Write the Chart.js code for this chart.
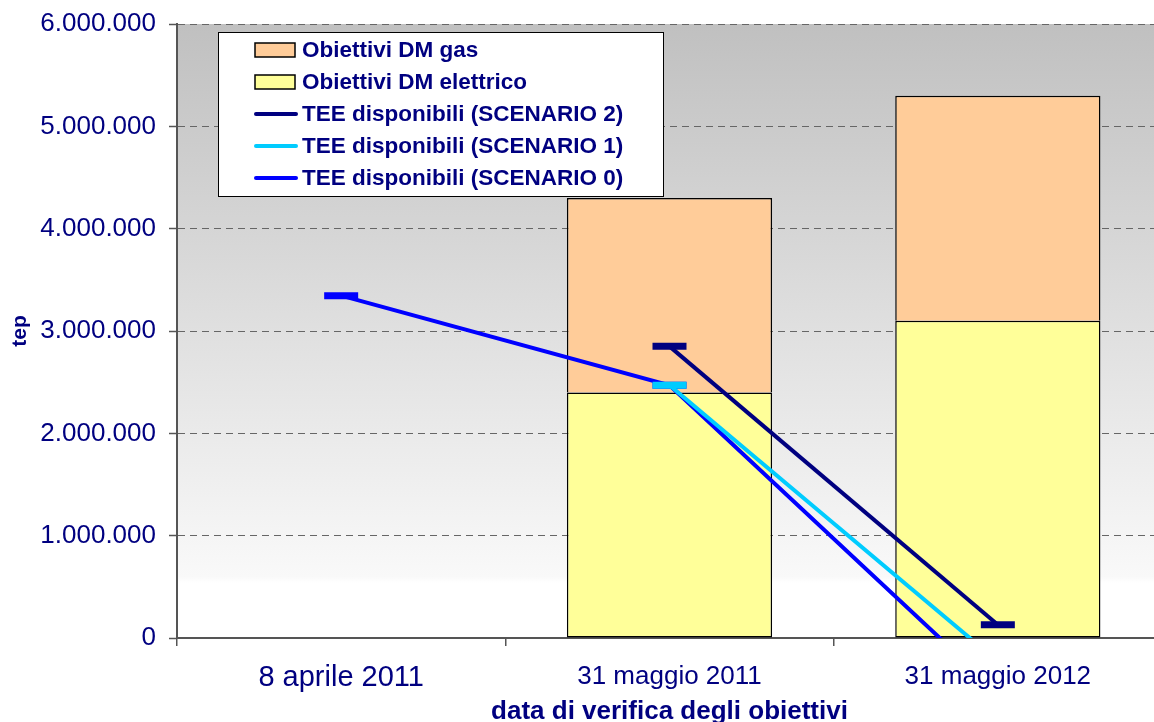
<!DOCTYPE html>
<html>
<head>
<meta charset="utf-8">
<title>TEE disponibili</title>
<script src="https://cdn.jsdelivr.net/npm/chart.js@4.4.1/dist/chart.umd.min.js"></script>
<style>
	body { margin:0; padding:0; background:#ffffff; overflow:hidden; }
	#chart { display:block; }
</style>
</head>
<body>
<canvas id="chart" width="1186" height="722"></canvas>
<script>
// categories and values
var categories = ['8 aprile 2011', '31 maggio 2011', '31 maggio 2012'];
var obiettiviElettrico = [null, 2400000, 3100000];
var obiettiviGas = [null, 1900000, 2200000];
var scenario2 = [null, 2850000, 130000];
var scenario1 = [null, 2470000, -230000];
var scenario0 = [3345000, 2470000, -530000];
var yTicks = [0, 1000000, 2000000, 3000000, 4000000, 5000000, 6000000];

var navy = '#000080';

function formatIt(v)
{
	return String(v).replace(/\B(?=(\d{3})+(?!\d))/g, '.');
}

// gray to white fill behind the plot
var backgroundPlugin = {
	id: 'plotBackground',
	beforeDraw: function(chart) {
		var ctx = chart.ctx;
		var a = chart.chartArea;
		var g = ctx.createLinearGradient(0, a.top, 0, a.bottom);
		g.addColorStop(0, '#c0c0c0');
		g.addColorStop(0.9, '#f9f9f9');
		g.addColorStop(0.91, '#ffffff');
		g.addColorStop(1, '#ffffff');
		ctx.save();
		ctx.fillStyle = g;
		ctx.fillRect(a.left, a.top, a.right - a.left, a.bottom - a.top);
		ctx.restore();
	}
};

// legend box sits inside the plot, top left
var legendBoxPlugin = {
	id: 'legendBox',
	afterDatasetsDraw: function(chart) {
		var ctx = chart.ctx;
		var order = [1, 0, 2, 3, 4];
		var left = 218, top = 32, w = 445, h = 164;
		ctx.save();
		ctx.fillStyle = '#ffffff';
		ctx.fillRect(left, top, w, h);
		ctx.strokeStyle = '#000000';
		ctx.lineWidth = 1;
		ctx.strokeRect(left + 0.5, top + 0.5, w, h);
		ctx.font = 'bold 22.5px "Liberation Sans", Arial, sans-serif';
		ctx.textBaseline = 'middle';
		ctx.textAlign = 'left';
		for (var i = 0; i < order.length; i++)
		{
			var ds = chart.data.datasets[order[i]];
			var y = 50 + i * 32;
			if (ds.type == 'bar')
			{
				ctx.fillStyle = ds.backgroundColor;
				ctx.fillRect(255, y - 7, 40, 14);
				ctx.lineWidth = 1.5;
				ctx.strokeStyle = '#000000';
				ctx.strokeRect(255, y - 7, 40, 14);
			}
			else
			{
				ctx.beginPath();
				ctx.lineCap = 'round';
				ctx.lineWidth = 4;
				ctx.strokeStyle = ds.borderColor;
				ctx.moveTo(256, y);
				ctx.lineTo(296, y);
				ctx.stroke();
			}
			ctx.fillStyle = navy;
			ctx.fillText(ds.label, 302, y + 1);
		}
		ctx.restore();
	}
};

var ctx = document.getElementById('chart').getContext('2d');
var chart = new Chart(ctx, {
	data: {
		labels: categories,
		datasets: [
			{
				type: 'bar', label: 'Obiettivi DM elettrico', data: obiettiviElettrico, stack: 'obj', order: 10,
				backgroundColor: '#ffff99', borderColor: '#000000', borderWidth: 1.5, borderSkipped: false,
				categoryPercentage: 1, barPercentage: 0.625
			},
			{
				type: 'bar', label: 'Obiettivi DM gas', data: obiettiviGas, stack: 'obj', order: 10,
				backgroundColor: '#ffcc99', borderColor: '#000000', borderWidth: 1.5, borderSkipped: 'bottom',
				categoryPercentage: 1, barPercentage: 0.625
			},
			{
				type: 'line', label: 'TEE disponibili (SCENARIO 2)', data: scenario2, stack: 's2', order: 2,
				borderColor: navy, backgroundColor: navy, borderWidth: 4,
				pointStyle: 'line', pointRadius: 17, pointBorderWidth: 7, pointBorderColor: navy
			},
			{
				type: 'line', label: 'TEE disponibili (SCENARIO 1)', data: scenario1, stack: 's1', order: 0,
				borderColor: '#00ccff', backgroundColor: '#00ccff', borderWidth: 4,
				pointStyle: 'line', pointRadius: 17, pointBorderWidth: 7, pointBorderColor: '#00ccff'
			},
			{
				type: 'line', label: 'TEE disponibili (SCENARIO 0)', data: scenario0, stack: 's0', order: 1,
				borderColor: '#0000ff', backgroundColor: '#0000ff', borderWidth: 4,
				pointStyle: 'line', pointRadius: 17, pointBorderWidth: 7, pointBorderColor: '#0000ff'
			}
		]
	},
	options: {
		responsive: false,
		animation: false,
		devicePixelRatio: 1,
		layout: { padding: { top: 24, left: 0, right: 0, bottom: 0 } },
		plugins: {
			legend: { display: false },
			tooltip: { enabled: false }
		},
		scales: {
			x: {
				offset: true,
				grid: { offset: true, drawOnChartArea: false, tickLength: 8, color: '#555555', lineWidth: 1.5 },
				border: { color: '#555555', width: 2 },
				ticks: {
					color: navy,
					padding: 15,
					maxRotation: 0,
					font: function(c) {
						return { family: '"Liberation Sans", Arial, sans-serif', size: c.index == 0 ? 29 : 26 };
					}
				},
				title: {
					display: true,
					text: 'data di verifica degli obiettivi',
					color: navy,
					padding: { top: 0, bottom: -3 },
					font: { family: '"Liberation Sans", Arial, sans-serif', size: 26, weight: 'bold', lineHeight: 1 }
				},
				afterFit: function(s) { s.height = 84; s.paddingLeft = 0; s.paddingRight = 0; }
			},
			y: {
				stacked: true,
				min: 0,
				max: 6000000,
				afterBuildTicks: function(s) {
					s.ticks = yTicks.map(function(v) { return { value: v }; });
				},
				grid: { color: '#666666', lineWidth: 1, tickLength: 8, tickColor: '#555555', tickWidth: 1.5 },
				border: { color: '#555555', width: 2, dash: [7, 5] },
				ticks: {
					color: navy,
					padding: 13,
					font: { family: '"Liberation Sans", Arial, sans-serif', size: 26 },
					callback: function(v) { return formatIt(v); }
				},
				title: {
					display: true,
					text: 'tep',
					color: navy,
					padding: { top: 8, bottom: 0 },
					font: { family: '"Liberation Sans", Arial, sans-serif', size: 21, weight: 'bold' }
				},
				afterFit: function(s) { s.width = 177; s.paddingTop = 0; s.paddingBottom = 0; }
			}
		}
	},
	plugins: [backgroundPlugin, legendBoxPlugin]
});
</script>
</body>
</html>
